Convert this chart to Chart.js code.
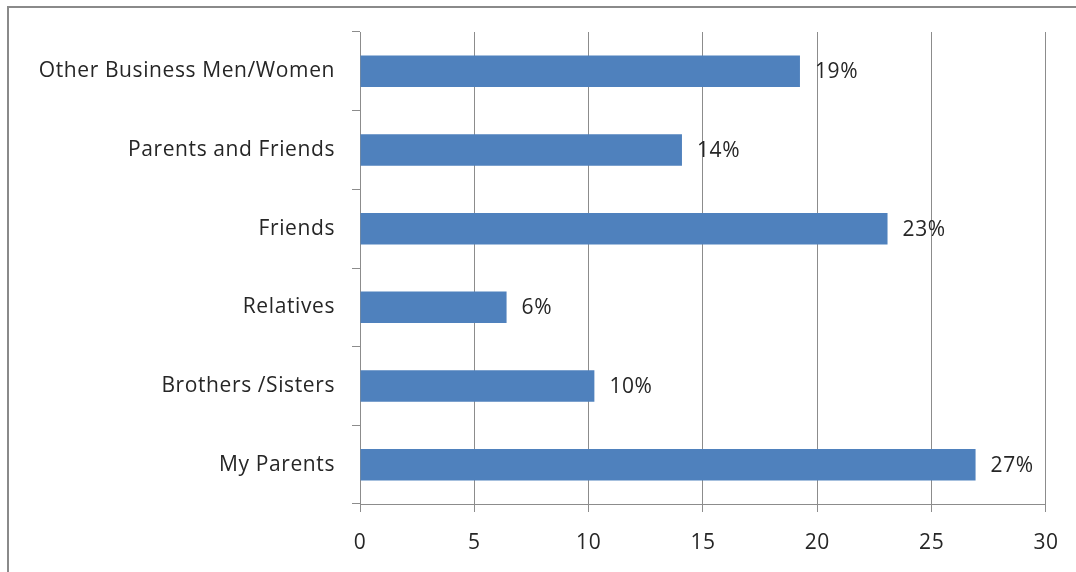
<!DOCTYPE html>
<html>
<head>
<meta charset="utf-8">
<script src="https://cdn.jsdelivr.net/npm/chart.js@4/dist/chart.umd.min.js"></script>
<style>
  html, body { margin: 0; padding: 0; background: #ffffff; }
  canvas { display: block; }
</style>
</head>
<body>
<canvas id="chart" width="1076" height="572"></canvas>
<script>
// Categories, top to bottom
const categories = [
  'Other Business Men/Women',
  'Parents and Friends',
  'Friends',
  'Relatives',
  'Brothers /Sisters',
  'My Parents'
];
// Share of respondents (%)
const shares = [19.24, 14.08, 23.07, 6.41, 10.25, 26.92];
// Value axis ticks
const xTicks = [0, 5, 10, 15, 20, 25, 30];

const FONT = { family: '"Open Sans", sans-serif', size: 21, weight: '400' };
const TEXT = '#262626';
const LINE = '#8c8c8c';

// Outer frame of the chart object
const framePlugin = {
  id: 'frame',
  beforeDraw(chart) {
    const ctx = chart.ctx;
    ctx.save();
    ctx.fillStyle = '#ffffff';
    ctx.fillRect(0, 0, chart.width, chart.height);
    ctx.strokeStyle = '#8a8a8a';
    ctx.lineWidth = 2;
    ctx.beginPath();
    ctx.moveTo(8, chart.height);
    ctx.lineTo(8, 7);
    ctx.lineTo(chart.width, 7);
    ctx.stroke();
    ctx.restore();
    ctx.letterSpacing = '0.6px';
  }
};

// Percentage labels right of each bar
const valueLabels = {
  id: 'valueLabels',
  afterDatasetsDraw(chart) {
    const ctx = chart.ctx;
    const meta = chart.getDatasetMeta(0);
    ctx.save();
    ctx.font = `${FONT.weight} ${FONT.size}px ${FONT.family}`;
    ctx.fillStyle = TEXT;
    ctx.textAlign = 'left';
    ctx.textBaseline = 'middle';
    meta.data.forEach((bar, i) => {
      const v = chart.data.datasets[0].data[i];
      ctx.fillText(Math.round(v) + '%', bar.x + 15, bar.y + 1);
    });
    ctx.restore();
  }
};

new Chart(document.getElementById('chart'), {
  type: 'bar',
  data: {
    labels: categories,
    datasets: [{
      data: shares,
      backgroundColor: '#4f81bd',
      borderWidth: 0,
      barPercentage: 0.4,
      categoryPercentage: 1.0
    }]
  },
  options: {
    indexAxis: 'y',
    responsive: false,
    animation: false,
    events: [],
    layout: { padding: { top: 32, right: 30, bottom: 0, left: 0 } },
    plugins: {
      legend: { display: false },
      tooltip: { enabled: false },
      title: { display: false }
    },
    scales: {
      x: {
        min: 0,
        max: 30,
        afterBuildTicks(scale) {
          scale.ticks = xTicks.map(v => ({ value: v }));
        },
        afterFit(scale) { scale.height = 68; },
        grid: {
          color: LINE,
          lineWidth: 1,
          drawTicks: true,
          tickLength: 8,
          tickColor: LINE
        },
        border: { color: LINE, width: 1 },
        ticks: {
          color: TEXT,
          font: FONT,
          padding: 18,
          maxRotation: 0
        }
      },
      y: {
        afterFit(scale) { scale.width = 360; },
        grid: {
          offset: true,
          drawOnChartArea: false,
          drawTicks: true,
          tickLength: 8,
          tickColor: LINE
        },
        border: { color: LINE, width: 1 },
        ticks: {
          color: TEXT,
          font: FONT,
          padding: 17,
          crossAlign: 'near'
        }
      }
    }
  },
  plugins: [framePlugin, valueLabels]
});
</script>
</body>
</html>
